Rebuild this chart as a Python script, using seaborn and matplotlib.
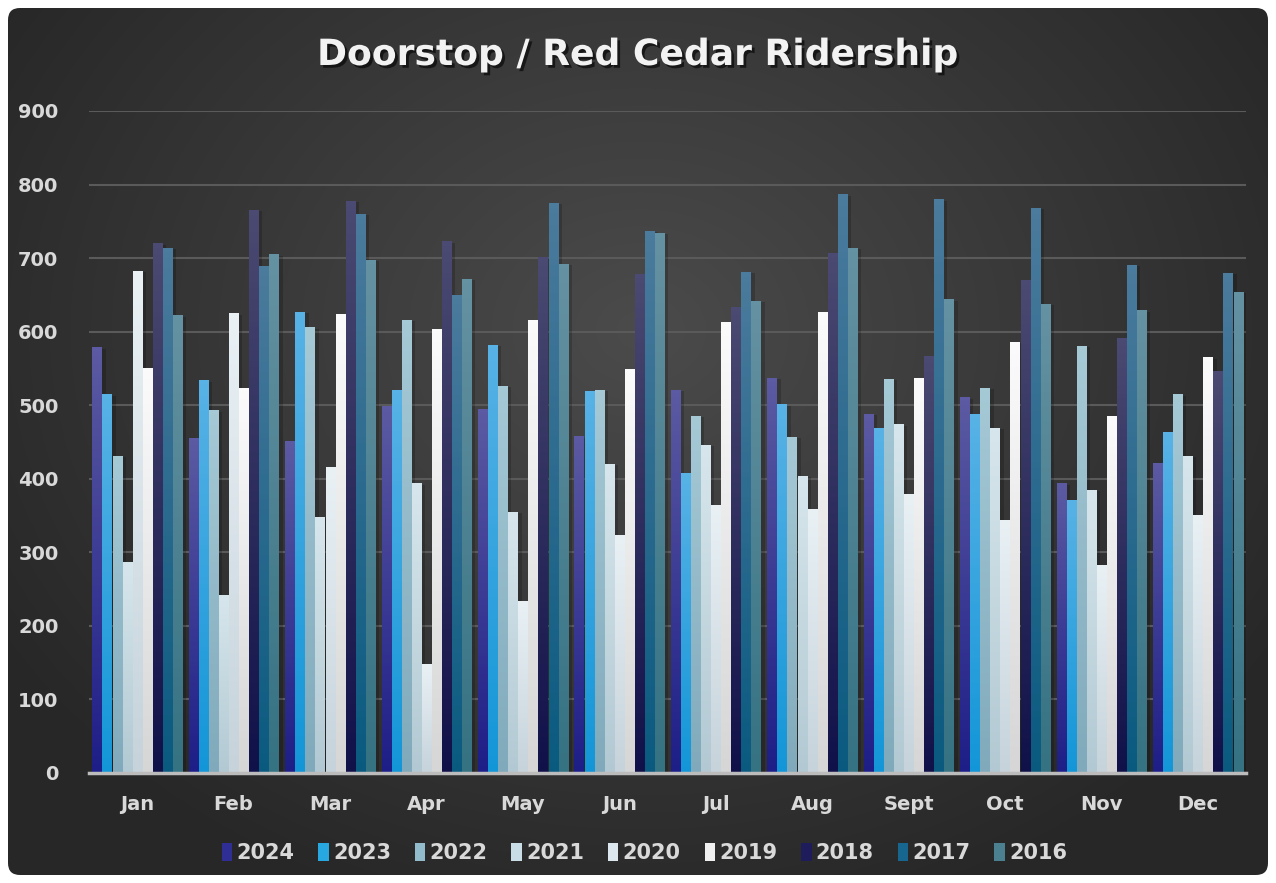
import matplotlib
matplotlib.use("Agg")
import matplotlib.pyplot as plt
import matplotlib.patheffects as pe
from matplotlib.colors import LinearSegmentedColormap
from matplotlib.patches import FancyBboxPatch, Patch
import numpy as np
import pandas as pd
import seaborn as sns

months = ["Jan", "Feb", "Mar", "Apr", "May", "Jun", "Jul", "Aug", "Sept", "Oct", "Nov", "Dec"]
years = ["2024", "2023", "2022", "2021", "2020", "2019", "2018", "2017", "2016"]

r2024 = [579, 455, 451, 499, 495, 458, 521, 537, 488, 511, 394, 422]
r2023 = [515, 534, 627, 521, 582, 520, 408, 501, 469, 488, 371, 464]
r2022 = [431, 493, 606, 616, 526, 521, 486, 457, 536, 524, 581, 515]
r2021 = [287, 242, 348, 394, 355, 420, 446, 404, 474, 469, 385, 431]
r2020 = [683, 625, 416, 148, 234, 324, 365, 359, 379, 344, 283, 351]
r2019 = [551, 524, 624, 603, 616, 549, 613, 627, 537, 586, 486, 565]
r2018 = [720, 766, 778, 723, 702, 679, 634, 707, 567, 670, 592, 546]
r2017 = [714, 689, 760, 650, 775, 737, 681, 787, 780, 768, 691, 680]
r2016 = [622, 705, 698, 672, 692, 734, 642, 714, 644, 638, 629, 654]
series = [r2024, r2023, r2022, r2021, r2020, r2019, r2018, r2017, r2016]

# top / bottom colours of each bar's gradient
tops = ["#5b5aa2", "#58b2e6", "#a6c9d6", "#d7e6ec", "#e9f1f5", "#fbfbfb", "#4b4a72", "#4b7b9d", "#6592a2"]
bottoms = ["#1e1e88", "#1396d8", "#80aabb", "#b2c9d3", "#c6d3db", "#d6d6d6", "#11114a", "#0a5a80", "#357282"]
mids = ["#2e2e94", "#28a8e0", "#92bccb", "#c8dde5", "#dce8ee", "#f0f0f0", "#1e1c5a", "#17668f", "#4a8090"]

df = pd.DataFrame({
    "month": np.tile(months, len(years)),
    "year": np.repeat(years, len(months)),
    "riders": np.concatenate(series),
})

W, H = 1276, 883
fig = plt.figure(figsize=(W / 100, H / 100), dpi=100, facecolor="white")

# dark rounded panel with a radial gradient
bg = fig.add_axes([0, 0, 1, 1], zorder=0)
bg.set_axis_off()
yy, xx = np.mgrid[0:H, 0:W]
d = np.sqrt(((xx - 640) / 760) ** 2 + ((yy - 330) / 620) ** 2)
grad = np.clip(1 - d, 0, 1)
bg_cmap = LinearSegmentedColormap.from_list("bg", ["#272727", "#4b4b4b"])
im = bg.imshow(grad, cmap=bg_cmap, extent=[0, W, H, 0], aspect="auto", vmin=0, vmax=1)
panel = FancyBboxPatch((8, 8), W - 16, H - 16, boxstyle="round,pad=0,rounding_size=12",
                       transform=bg.transData, facecolor="none", edgecolor="none")
bg.add_patch(panel)
im.set_clip_path(panel)
bg.set_xlim(0, W)
bg.set_ylim(H, 0)

ax = fig.add_axes([89 / W, 1 - 773 / H, 1157 / W, 662 / H], zorder=1)
ax.patch.set_alpha(0)
sns.barplot(data=df, x="month", y="riders", hue="year", hue_order=years, order=months,
            palette=mids, width=0.94, gap=0.1, legend=False, ax=ax, saturation=1)

# gradient fill for each bar
for i, cont in enumerate(ax.containers):
    cm = LinearSegmentedColormap.from_list(f"c{i}", [bottoms[i], tops[i]])
    for p in cont.patches:
        x, w, h = p.get_x(), p.get_width(), p.get_height()
        p.set_path_effects([pe.SimplePatchShadow(offset=(3, -1), shadow_rgbFace="black", alpha=0.18), pe.Normal()])
        g = np.linspace(0, 1, 100).reshape(-1, 1)
        img = ax.imshow(g, cmap=cm, extent=[x, x + w, 0, h], origin="lower",
                        aspect="auto", zorder=p.get_zorder() + 0.1)
        img.set_clip_path(p)

ax.set_xlim(-0.5, 11.5)
ax.set_ylim(0, 900)
ax.set_yticks(range(0, 901, 100))
ax.grid(axis="y", color="#5a5a5a", linewidth=1.5)
ax.set_axisbelow(True)
for s in ["top", "right", "left"]:
    ax.spines[s].set_visible(False)
ax.spines["bottom"].set_color("#bcbcbc")
ax.spines["bottom"].set_linewidth(2.5)
ax.spines["bottom"].set_zorder(5)
ax.tick_params(axis="both", length=0, colors="#d9d9d9", labelsize=14)
ax.tick_params(axis="y", pad=22)
ax.tick_params(axis="x", pad=16)
for lab in ax.get_xticklabels() + ax.get_yticklabels():
    lab.set_fontweight("bold")
ax.set_xlabel("")
ax.set_ylabel("")

fig.text(0.5, 1 - 55 / H, "Doorstop / Red Cedar Ridership", ha="center", va="center",
         fontsize=26, fontweight="bold", color="#f2f2f2", family="DejaVu Sans",
         path_effects=[pe.withSimplePatchShadow(offset=(2, -2), shadow_rgbFace="black", alpha=0.6)])

handles = [Patch(facecolor=mids[i], edgecolor="none", label=y) for i, y in enumerate(years)]
leg = fig.legend(handles=handles, loc="center", bbox_to_anchor=(0.505, 1 - 853 / H), ncol=9,
                 frameon=False, fontsize=15, handlelength=0.5, handleheight=1.0,
                 handletextpad=0.2, columnspacing=1.15)
for t in leg.get_texts():
    t.set_color("#d9d9d9")
    t.set_fontweight("bold")

fig.savefig("out.png", dpi=100, facecolor="white")
